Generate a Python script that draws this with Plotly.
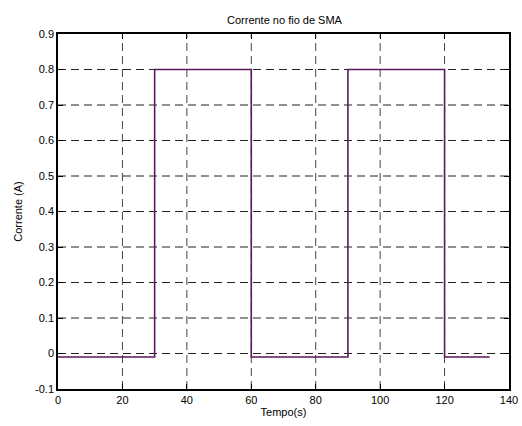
import plotly.graph_objects as go

# Corrente aplicada ao fio de SMA (degraus de 0,8 A)
tempo = [0, 30, 60, 90, 120, 134]
corrente = [-0.01, 0.8, -0.01, 0.8, -0.01, -0.01]

x_ticks = [0, 20, 40, 60, 80, 100, 120, 140]
y_ticks = [-0.1, 0, 0.1, 0.2, 0.3, 0.4, 0.5, 0.6, 0.7, 0.8, 0.9]
y_labels = ["-0.1", "0", "0.1", "0.2", "0.3", "0.4", "0.5", "0.6", "0.7", "0.8", "0.9"]

font = dict(family="Liberation Sans, Arial, sans-serif", size=11, color="black")

fig = go.Figure()
fig.add_trace(go.Scatter(
    x=tempo, y=corrente, mode="lines", line_shape="hv",
    line=dict(color="#5b1a5b", width=1.6), showlegend=False,
))

# MATLAB-style dashed grid
for xv in x_ticks[1:-1]:
    fig.add_shape(type="line", xref="x", yref="paper", x0=xv, x1=xv, y0=0, y1=1,
                  line=dict(color="#444", width=1, dash="8px,5px"), layer="below")
for yv in y_ticks[1:-1]:
    fig.add_shape(type="line", xref="paper", yref="y", x0=0, x1=1, y0=yv, y1=yv,
                  line=dict(color="#222", width=1, dash="8px,5px"), layer="below")

axis_common = dict(
    showgrid=False, zeroline=False, showline=True, linecolor="black", linewidth=1.5,
    mirror="ticks", ticks="inside", ticklen=5, tickcolor="black", tickfont=font,
    automargin=False,
)

fig.update_xaxes(range=[0, 140], tickvals=x_ticks,
                 title=dict(text="Tempo(s)", font=font, standoff=3), **axis_common)
fig.update_yaxes(range=[-0.1, 0.9], tickvals=y_ticks, ticktext=y_labels,
                 title=dict(text="Corrente (A)", font=font, standoff=10), **axis_common)

fig.update_layout(
    width=522, height=426,
    margin=dict(l=58, r=13, t=34, b=37),
    plot_bgcolor="white", paper_bgcolor="white",
    title=dict(text="Corrente no fio de SMA", font=font, x=0.545, xanchor="center",
               y=1 - 20 / 426, yanchor="middle"),
)

fig.write_html("out.html")
